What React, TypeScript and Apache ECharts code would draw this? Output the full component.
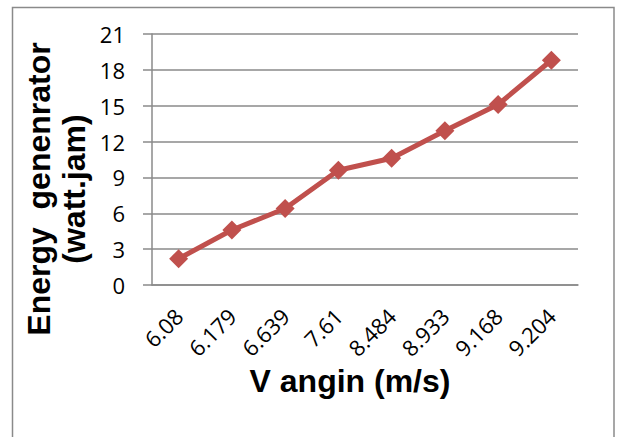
import React, { useEffect, useRef } from "react";
import * as echarts from "echarts";

const categories = ["6.08", "6.179", "6.639", "7.61", "8.484", "8.933", "9.168", "9.204"];
const energyValues = [2.2, 4.6, 6.4, 9.6, 10.6, 12.9, 15.1, 18.8];
const yTicks = { min: 0, max: 21, interval: 3 };
const yTitleLines = ["Energy  genenrator", "(watt.jam)"];
const xTitle = "V angin (m/s)";

export default function App() {
  const ref = useRef<HTMLDivElement>(null);
  useEffect(() => {
    document.body.style.margin = "0";
    const chart = echarts.init(ref.current!, null, { renderer: "svg" });
    const gray = "#8a8a8a";
    chart.setOption({
      animation: false,
      backgroundColor: "#ffffff",
      grid: { left: 152, right: 42, top: 34, bottom: 152, containLabel: false },
      xAxis: {
        type: "category",
        data: categories,
        boundaryGap: true,
        axisTick: { show: false },
        axisLine: { lineStyle: { color: gray, width: 1.5 } },
        axisLabel: {
          rotate: 45,
          margin: 27,
          fontSize: 22,
          fontFamily: "Open Sans",
          color: "#000",
          interval: 0,
        },
      },
      yAxis: {
        type: "value",
        min: yTicks.min,
        max: yTicks.max,
        interval: yTicks.interval,
        axisLine: { show: true, lineStyle: { color: gray, width: 1.5 } },
        axisTick: { show: true, length: 9, lineStyle: { color: gray, width: 1.5 } },
        splitLine: { lineStyle: { color: gray, width: 1.5 } },
        axisLabel: {
          margin: 27,
          fontSize: 22,
          fontFamily: "Open Sans",
          color: "#000",
        },
      },
      graphic: [
        {
          type: "rect",
          shape: { x: 12.5, y: 7.5, width: 601.5, height: 440 },
          style: { fill: "none", stroke: gray, lineWidth: 1.5 },
          silent: true,
        },
        {
          type: "text",
          x: 56,
          y: 189,
          rotation: Math.PI / 2,
          style: {
            text: yTitleLines.join("\n"),
            fontSize: 32,
            fontWeight: "bold",
            fontFamily: "Liberation Sans",
            fill: "#000",
            textAlign: "center",
            textVerticalAlign: "middle",
            lineHeight: 35,
          },
        },
        {
          type: "text",
          x: 350,
          y: 381,
          style: {
            text: xTitle,
            fontSize: 32,
            fontWeight: "bold",
            fontFamily: "Liberation Sans",
            fill: "#000",
            textAlign: "center",
            textVerticalAlign: "middle",
          },
        },
      ],
      series: [
        {
          type: "line",
          data: energyValues,
          symbol: "diamond",
          symbolSize: 19,
          lineStyle: { color: "#C0504D", width: 5 },
          itemStyle: { color: "#C0504D" },
          z: 3,
        },
      ],
    });
    return () => chart.dispose();
  }, []);
  return <div ref={ref} style={{ width: 620, height: 437 }} />;
}
